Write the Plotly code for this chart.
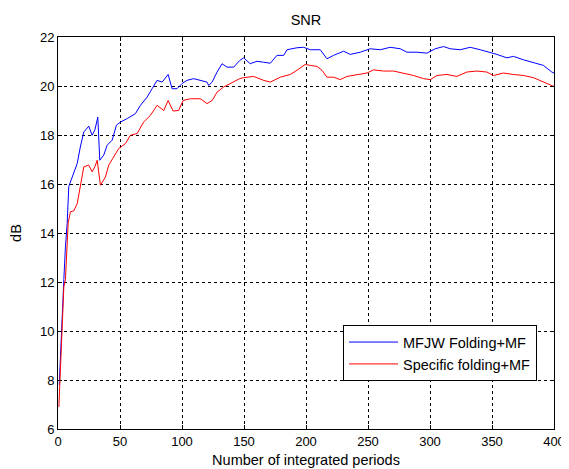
import plotly.graph_objects as go

# Blue series: MFJW Folding+MF
blue_x = [1, 2, 3.4, 4.7, 6, 7.4, 8.7, 12, 15.5, 18, 20.8, 24.8, 27.5, 29.7, 32.1, 33.7,
          36.9, 39.6, 43.7, 47.1, 50.4, 55.8, 62.4, 66.5, 71.9, 75.9, 79.9, 84, 88.8, 92,
          96, 100, 104, 109.4, 114.8, 120.2, 121.5, 124.3, 128.3, 132.3, 136.3, 141.7,
          146.5, 149.7, 155, 160.5, 165.8, 171.2, 176.6, 182, 184.7, 192.7, 198, 203.5,
          211.5, 216.9, 222.2, 230.3, 235.7, 243.8, 251.8, 259.9, 267.9, 276, 281.4,
          289.4, 297.5, 300.2, 304.2, 310.9, 316.3, 324.3, 332.4, 340.5, 348.5, 353.9,
          362, 367.3, 375.3, 383.4, 391.5, 398.2, 400]
blue_y = [7.8, 9.1, 11.15, 12.1, 13.44, 14.4, 15.9, 16.4, 16.84, 17.51, 18.12, 18.36,
          17.99, 18.2, 18.73, 16.97, 17.18, 17.58, 17.79, 18.4, 18.53, 18.67, 18.87,
          19.21, 19.55, 19.89, 20.23, 20.16, 20.47, 19.89, 19.89, 20.1, 20.23, 20.3,
          20.23, 20.16, 20.02, 20.16, 20.57, 20.91, 20.77, 20.77, 21.04, 21.15, 20.91,
          21.01, 20.97, 20.93, 21.25, 21.25, 21.48, 21.56, 21.58, 21.48, 21.48, 21.11,
          21.25, 21.42, 21.29, 21.38, 21.52, 21.48, 21.58, 21.52, 21.38, 21.38, 21.34,
          21.42, 21.52, 21.61, 21.52, 21.48, 21.58, 21.48, 21.38, 21.29, 21.15, 21.21,
          21.07, 20.97, 20.84, 20.57, 20.53]

# Red series: Specific folding+MF
red_x = [0.7, 2, 3.4, 4.7, 6, 7.4, 8.2, 10, 12.7, 15.5, 18, 20.8, 24.8, 27.5, 29.7,
         31.6, 34.2, 38.3, 40.9, 45, 49, 54.4, 58.4, 63.8, 69.1, 74.5, 79.9, 85.3, 88.8,
         92.8, 97.3, 100.9, 106.8, 114.8, 120.2, 124.3, 128.3, 133.6, 139, 146.5, 149.7,
         157.8, 165.8, 171.2, 179.3, 187.3, 192.7, 199.4, 203.5, 208.9, 212.9, 216.9,
         222.2, 227.6, 233, 241.1, 249.2, 254.5, 262.5, 270.6, 278.6, 286.7, 294.8,
         300.2, 305.6, 313.6, 321.7, 329.7, 337.8, 345.8, 351.2, 359.2, 367.3, 375.3,
         383.4, 390.2, 395.5, 400]
red_y = [6.9, 8.7, 10.46, 11.8, 12.1, 13.44, 14.4, 14.87, 14.9, 15.2, 15.88, 16.7,
         16.77, 16.5, 16.7, 16.97, 15.95, 16.29, 16.77, 17.1, 17.45, 17.65, 17.99,
         18.06, 18.53, 18.8, 19.21, 19.0, 19.41, 18.98, 19.0, 19.41, 19.48, 19.48,
         19.28, 19.41, 19.75, 19.96, 20.1, 20.3, 20.34, 20.39, 20.23, 20.16, 20.36,
         20.47, 20.64, 20.88, 20.84, 20.8, 20.64, 20.36, 20.36, 20.26, 20.39, 20.47,
         20.53, 20.66, 20.61, 20.61, 20.53, 20.43, 20.3, 20.26, 20.43, 20.47, 20.39,
         20.57, 20.61, 20.57, 20.43, 20.53, 20.47, 20.43, 20.34, 20.2, 20.1, 19.98]

x_ticks = [0, 50, 100, 150, 200, 250, 300, 350, 400]
y_ticks = [6, 8, 10, 12, 14, 16, 18, 20, 22]

FONT = "Liberation Sans, Arial, sans-serif"
TICK_SIZE = 13
LABEL_SIZE = 14.5

# The page body has an 8px default margin, so the figure is drawn at (8, 8).
OFF = 8
W, H = 569 - OFF, 469 - OFF

fig = go.Figure()
fig.add_trace(go.Scatter(x=blue_x, y=blue_y, mode="lines", name="MFJW Folding+MF",
                         line=dict(color="#0000FF", width=1)))
fig.add_trace(go.Scatter(x=red_x, y=red_y, mode="lines", name="Specific folding+MF",
                         line=dict(color="#FF0000", width=1)))

axis_common = dict(showline=True, linecolor="black", linewidth=1, mirror="ticks",
                   ticks="inside", ticklen=4, tickcolor="black", automargin=False,
                   showgrid=True, gridcolor="black", griddash="3px,3px", gridwidth=1,
                   zeroline=False, tickfont=dict(family=FONT, size=TICK_SIZE, color="black"))

fig.update_xaxes(range=[0, 400], tickvals=x_ticks,
                 title=dict(text="Number of integrated periods", standoff=7,
                            font=dict(family=FONT, size=LABEL_SIZE, color="black")),
                 **axis_common)
fig.update_yaxes(range=[6, 22], tickvals=y_ticks,
                 title=dict(text="dB", standoff=14,
                            font=dict(family=FONT, size=LABEL_SIZE, color="black")),
                 **axis_common)

fig.update_layout(
    width=W, height=H,
    margin=dict(l=57.5 - OFF, r=W + OFF - 554, t=36.5 - OFF, b=H + OFF - 429,
                autoexpand=False),
    paper_bgcolor="white", plot_bgcolor="white",
    title=dict(text="SNR", x=0.5, xanchor="center", xref="paper",
               y=1 - (19.5 - OFF) / H, yanchor="middle", yref="container",
               font=dict(family=FONT, size=LABEL_SIZE, color="black")),
    showlegend=True,
    legend=dict(x=(537 - 57.5) / 496.5, xanchor="right",
                y=(429 - 325) / 392.5, yanchor="top",
                bgcolor="white", bordercolor="black", borderwidth=1,
                font=dict(family=FONT, size=LABEL_SIZE, color="black"),
                itemwidth=49, tracegroupgap=0),
)

fig.write_html("out.html")
